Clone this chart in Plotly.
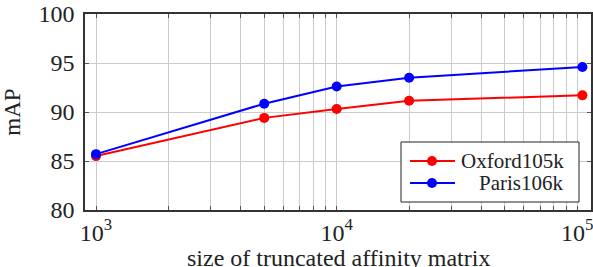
import plotly.graph_objects as go
import math

sizes = [1000, 5000, 10000, 20000, 105000]
oxford = [85.5, 89.4, 90.3, 91.15, 91.7]
paris = [85.7, 90.85, 92.6, 93.5, 94.6]
series_names = ["Oxford105k", "Paris106k"]
series_colors = ["#ff0000", "#0000ff"]
y_ticks = [80, 85, 90, 95, 100]
x_major = [1000, 10000, 100000]
x_major_labels = ["10<sup>3</sup>", "10<sup>4</sup>", "10<sup>5</sup>"]
x_title = "size of truncated affinity matrix"
y_title = "mAP"

grid_vals = []
for d in [100, 1000, 10000, 100000]:
    for m in range(1, 10):
        grid_vals.append(d * m)
grid_text = [x_major_labels[x_major.index(v)] if v in x_major else "" for v in grid_vals]

W, H = 593, 267
L, R, T, B = 85, 2, 14, 57
PW, PH = W - L - R, H - T - B

def px(x):
    return (x - L) / PW

def py(y):
    return (T + PH - y) / PH

font = "Liberation Serif"
fig = go.Figure()
for name, vals, col in zip(series_names, [oxford, paris], series_colors):
    fig.add_trace(go.Scatter(x=sizes, y=vals, name=name, mode="lines+markers",
                             line=dict(color=col, width=2), marker=dict(color=col, size=10),
                             cliponaxis=False))

# manual legend (right-aligned labels like pgfplots)
shapes = [dict(type="rect", xref="paper", yref="paper", x0=px(401), x1=px(579), y0=py(202), y1=py(142),
               line=dict(color="#222", width=1), fillcolor="white", layer="above")]
annotations = []
for i, (name, col) in enumerate(zip(series_names, series_colors)):
    yy = 161 + 22 * i
    shapes.append(dict(type="line", xref="paper", yref="paper", x0=px(410), x1=px(455), y0=py(yy), y1=py(yy),
                       line=dict(color=col, width=2), layer="above"))
    shapes.append(dict(type="circle", xref="paper", yref="paper", x0=px(427), x1=px(437), y0=py(yy + 5), y1=py(yy - 5),
                       line=dict(color=col, width=0), fillcolor=col, layer="above"))
    annotations.append(dict(text=name, xref="paper", yref="paper", x=px(566), y=py(yy), xanchor="right",
                            yanchor="middle", showarrow=False, font=dict(size=21, family=font, color="#222")))

annotations.append(dict(text=x_title, xref="paper", yref="paper", x=px(338), y=py(258), xanchor="center",
                        yanchor="middle", showarrow=False, font=dict(size=24, family=font, color="#222")))

fig.update_layout(
    width=W, height=H,
    margin=dict(l=L, r=R, t=T, b=B),
    plot_bgcolor="white", paper_bgcolor="white",
    font=dict(family=font, color="#222"),
    showlegend=False,
    shapes=shapes, annotations=annotations,
    xaxis=dict(type="log", range=[math.log10(900), math.log10(114000)],
               tickvals=grid_vals, ticktext=grid_text, automargin=False, ticklabeloverflow="allow",
               showgrid=True, gridcolor="#cccccc", gridwidth=1,
               showline=True, linecolor="#333", linewidth=1.5, mirror="ticks",
               ticks="inside", ticklen=4, tickcolor="#555",
               tickfont=dict(size=24, family=font),
               zeroline=False),
    yaxis=dict(range=[80, 100], tickvals=y_ticks, automargin=False, ticklabeloverflow="allow",
               ticklabelstandoff=4,
               showgrid=True, gridcolor="#cccccc", gridwidth=1,
               showline=True, linecolor="#333", linewidth=1.5, mirror="ticks",
               ticks="inside", ticklen=4, tickcolor="#555",
               tickfont=dict(size=24, family=font),
               title=dict(text=y_title, font=dict(size=23, family=font), standoff=12),
               zeroline=False),
)
fig.write_html("out.html", config={"displayModeBar": False},
               post_script="document.body.style.margin='0';document.body.style.overflow='hidden';")
